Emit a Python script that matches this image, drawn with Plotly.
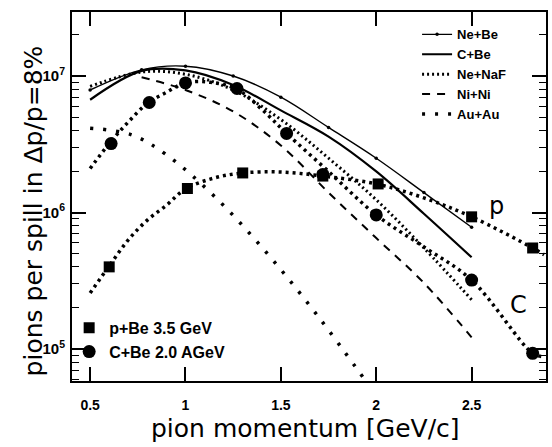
import plotly.graph_objects as go

# ---- model curves (pions per spill) ----
model_x = [0.5, 0.77, 1.0, 1.25, 1.5, 1.75, 2.0, 2.25, 2.5]
ne_be_y = [7.9e6, 1.11e7, 1.18e7, 1.0e7, 7.0e6, 4.2e6, 2.5e6, 1.4e6, 7.8e5]
c_be_y = [6.7e6, 1.09e7, 1.1e7, 8.6e6, 5.6e6, 3.6e6, 2.0e6, 9.8e5, 4.7e5]
ne_naf_y = [8.4e6, 1.07e7, 1.03e7, 7.9e6, 4.8e6, 2.5e6, 1.24e6, 5.5e5, 2.3e5]
ni_x = [0.77, 1.0, 1.25, 1.5, 1.75, 2.0, 2.25, 2.5]
ni_y = [9.8e6, 7.9e6, 5.5e6, 3.1e6, 1.4e6, 6.5e5, 3.05e5, 1.22e5]
au_x = [0.5, 0.72, 0.9, 1.16, 1.44, 1.7, 1.95]
au_y = [4.15e6, 3.7e6, 2.65e6, 1.28e6, 4.8e5, 1.7e5, 5.7e4]

# ---- measured data and their fit curves ----
p_x = [0.6, 1.01, 1.3, 1.72, 2.01, 2.5, 2.82]
p_y = [4.0e5, 1.5e6, 1.95e6, 1.85e6, 1.62e6, 9.3e5, 5.5e5]
p_fit_x = [0.5, 0.6, 0.7, 0.8, 0.9, 1.0, 1.15, 1.3, 1.5, 1.72, 2.0, 2.25, 2.5, 2.82, 2.88]
p_fit_y = [2.57e5, 4.06e5, 6.3e5, 8.8e5, 1.13e6, 1.49e6, 1.79e6, 1.95e6, 1.98e6,
           1.85e6, 1.62e6, 1.28e6, 9.3e5, 5.5e5, 4.9e5]

c_x = [0.61, 0.81, 1.0, 1.27, 1.53, 1.72, 2.0, 2.5, 2.82]
c_y = [3.2e6, 6.4e6, 8.9e6, 8.1e6, 3.8e6, 1.9e6, 9.6e5, 3.2e5, 9.3e4]
c_fit_x = [0.5, 0.6, 0.7, 0.8, 0.9, 1.0, 1.13, 1.27, 1.4, 1.53, 1.75, 2.0, 2.25, 2.5, 2.82, 2.87]
c_fit_y = [2.1e6, 3.2e6, 4.6e6, 6.3e6, 7.6e6, 8.9e6, 9.0e6, 8.0e6, 5.7e6, 3.8e6,
           2.0e6, 9.6e5, 5.6e5, 3.2e5, 9.3e4, 8.8e4]

x_ticks = [0.5, 1, 1.5, 2, 2.5]
x_ticktext = ["0.5", "1", "1.5", "2", "2.5"]
y_ticks = [1e5, 1e6, 1e7]
y_ticktext = ["10<sup>5</sup>", "10<sup>6</sup>", "10<sup>7</sup>"]
y_minor = [6e4, 7e4, 8e4, 9e4, 2e5, 3e5, 4e5, 5e5, 6e5, 7e5, 8e5, 9e5,
           2e6, 3e6, 4e6, 5e6, 6e6, 7e6, 8e6, 9e6, 2e7]

BLK = "black"
fig = go.Figure()

fig.add_trace(go.Scatter(x=model_x, y=ne_be_y, name="Ne+Be", mode="lines+markers",
                         line=dict(color=BLK, width=1.4, shape="spline"),
                         marker=dict(size=3.5, color=BLK), legend="legend"))
fig.add_trace(go.Scatter(x=model_x, y=c_be_y, name="C+Be", mode="lines",
                         line=dict(color=BLK, width=2.2, shape="spline"), legend="legend"))
fig.add_trace(go.Scatter(x=model_x, y=ne_naf_y, name="Ne+NaF", mode="lines",
                         line=dict(color=BLK, width=3, dash="2px,3px", shape="spline"),
                         legend="legend"))
fig.add_trace(go.Scatter(x=ni_x, y=ni_y, name="Ni+Ni", mode="lines",
                         line=dict(color=BLK, width=2, dash="8px,7px", shape="spline"),
                         legend="legend"))
fig.add_trace(go.Scatter(x=au_x, y=au_y, name="Au+Au", mode="lines",
                         line=dict(color=BLK, width=3.5, dash="3px,10px", shape="spline"),
                         legend="legend"))

fig.add_trace(go.Scatter(x=p_fit_x, y=p_fit_y, mode="lines", showlegend=False,
                         line=dict(color=BLK, width=3.5, dash="3px,4px", shape="spline")))
fig.add_trace(go.Scatter(x=c_fit_x, y=c_fit_y, mode="lines", showlegend=False,
                         line=dict(color=BLK, width=3.5, dash="3px,4px", shape="spline")))
fig.add_trace(go.Scatter(x=p_x, y=p_y, name="p+Be 3.5 GeV", mode="markers",
                         marker=dict(symbol="square", size=11, color=BLK), legend="legend2"))
fig.add_trace(go.Scatter(x=c_x, y=c_y, name="C+Be 2.0 AGeV", mode="markers",
                         marker=dict(symbol="circle", size=13, color=BLK), legend="legend2"))

fig.update_layout(
    width=552, height=447,
    margin=dict(l=72, r=4, t=12, b=66),
    plot_bgcolor="white", paper_bgcolor="white",
    font=dict(family="Liberation Sans", color=BLK),
    legend=dict(x=0.728, y=0.98, xanchor="left", yanchor="top",
                bgcolor="rgba(0,0,0,0)", font=dict(size=13, weight="bold"),
                itemwidth=30, tracegroupgap=0),
    legend2=dict(x=-0.006, y=0.19, xanchor="left", yanchor="top",
                 bgcolor="rgba(0,0,0,0)", font=dict(size=16, weight="bold"),
                 itemwidth=30),
    xaxis=dict(range=[0.405, 2.89], tickvals=x_ticks, ticktext=x_ticktext,
               ticks="inside", ticklen=14, tickwidth=1.5, tickcolor=BLK,
               showline=True, linewidth=2, linecolor=BLK, mirror="allticks",
               showgrid=False, zeroline=False, ticklabelstandoff=10,
               tickfont=dict(size=14, weight="bold", family="Liberation Sans")),
    yaxis=dict(type="log", range=[4.766, 7.469], tickvals=y_ticks, ticktext=y_ticktext,
               ticks="inside", ticklen=14, tickwidth=1.5, tickcolor=BLK,
               showline=True, linewidth=2, linecolor=BLK, mirror="allticks",
               showgrid=False, zeroline=False, ticklabelstandoff=2,
               tickfont=dict(size=15, weight="bold", family="Liberation Sans"),
               minor=dict(tickvals=y_minor, ticks="inside", ticklen=7,
                          tickwidth=1.2, tickcolor=BLK, showgrid=False)),
    annotations=[
        dict(text="pions per spill in Δp/p=8%", xref="paper", yref="paper",
             x=-0.082, y=0.46, xanchor="center", yanchor="middle", textangle=-90,
             showarrow=False, font=dict(family="DejaVu Sans", size=25, color=BLK)),
        dict(text="pion momentum [GeV/c]", xref="paper", yref="paper",
             x=0.4916, y=-0.13, xanchor="center", yanchor="middle",
             showarrow=False, font=dict(family="DejaVu Sans", size=25, color=BLK)),
        dict(text="p", xref="paper", yref="paper", x=0.895, y=0.475,
             xanchor="center", yanchor="middle", showarrow=False,
             font=dict(family="DejaVu Sans", size=24, color=BLK)),
        dict(text="C", xref="paper", yref="paper", x=0.942, y=0.205,
             xanchor="center", yanchor="middle", showarrow=False,
             font=dict(family="DejaVu Sans", size=24, color=BLK)),
    ],
)

fig.write_html("out.html")
